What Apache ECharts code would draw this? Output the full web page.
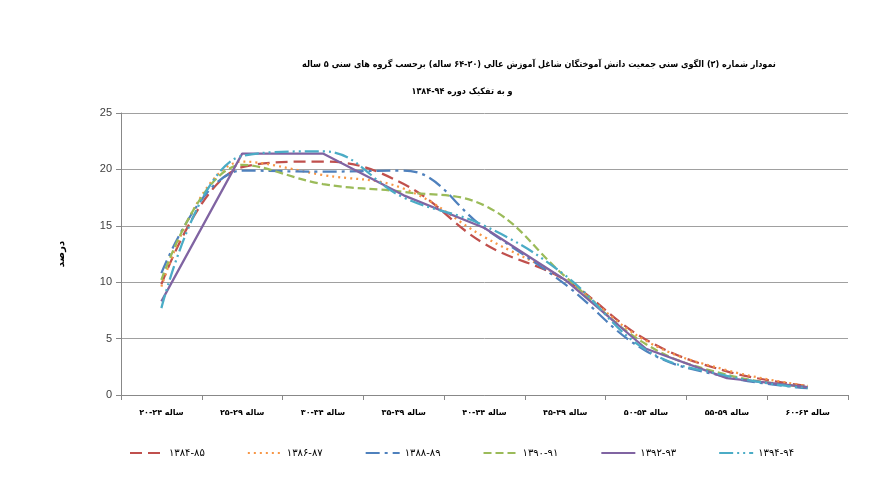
<!DOCTYPE html>
<html><head><meta charset="utf-8">
<script src="https://cdn.jsdelivr.net/npm/echarts@6/dist/echarts.min.js"></script>
<style>html,body{margin:0;padding:0;background:#fff}#c{width:882px;height:501px}</style>
</head><body><div id="c"></div>
<script>
const categories = ['۲۰-۲۴ ساله','۲۵-۲۹ ساله','۳۰-۳۴ ساله','۳۵-۳۹ ساله','۴۰-۴۴ ساله','۴۵-۴۹ ساله','۵۰-۵۴ ساله','۵۵-۵۹ ساله','۶۰-۶۴ ساله'];
const seriesNames = ['۱۳۸۴-۸۵','۱۳۸۶-۸۷','۱۳۸۸-۸۹','۱۳۹۰-۹۱','۱۳۹۲-۹۳','۱۳۹۴-۹۴'];
const s1384 = [9.8, 20.2, 20.7, 18.7, 13.4, 10.2, 4.9, 2.1, 0.8];
const s1386 = [9.6, 20.7, 19.5, 18.3, 14.0, 10.2, 4.8, 2.2, 0.8];
const s1388 = [10.8, 19.9, 19.8, 19.9, 14.8, 9.8, 3.9, 1.6, 0.6];
const s1390 = [10.2, 20.4, 18.7, 18.0, 16.8, 10.5, 4.5, 1.8, 0.7];
const s1392 = [8.3, 21.4, 21.4, 17.7, 14.8, 10.2, 4.1, 1.5, 0.7];
const s1394 = [7.7, 21.2, 21.6, 17.5, 15.0, 10.6, 4.0, 1.7, 0.6];
const yTicks = [0, 5, 10, 15, 20, 25];
const titleLine1 = 'نمودار شماره (۲) الگوی سنی جمعیت دانش آموختگان شاغل آموزش عالی (۲۰-۶۴ ساله) برحسب گروه های سنی ۵ ساله';
const titleLine2 = 'و به تفکیک دوره ۹۴-۱۳۸۴';
const yName = 'درصد';

const colors = ['#C0504D','#F79646','#4F81BD','#9BBB59','#8064A2','#4BACC6'];
const dashes = [[12,6],[2,4],[14,5,3,5],[8,4],'solid',[14,4,2,4,2,4]];
const smooths = [true,true,true,true,false,true];
const values = [s1384,s1386,s1388,s1390,s1392,s1394];
const font = 'DejaVu Sans';

const chart = echarts.init(document.getElementById('c'), null, {renderer:'canvas'});
chart.setOption({
  animation:false,
  backgroundColor:'#fff',
  title:[
    {text:titleLine1, left:534, top:55, textAlign:'center', textStyle:{fontFamily:'DejaVu Sans Condensed, DejaVu Sans',fontSize:9,fontWeight:'bold',color:'#000'}},
    {text:titleLine2, left:457, top:82, textAlign:'center', textStyle:{fontFamily:'DejaVu Sans Condensed, DejaVu Sans',fontSize:9,fontWeight:'bold',color:'#000'}}
  ],
  grid:{left:121,right:34,top:113,bottom:106,containLabel:false},
  legend:{
    bottom:38, left:124, itemWidth:34, itemHeight:10, itemGap:42,
    itemStyle:{opacity:0},
    textStyle:{fontFamily:font,fontSize:10,color:'#000'},
    data:seriesNames
  },
  xAxis:{
    type:'category', data:categories, boundaryGap:true,
    axisLine:{lineStyle:{color:'#888'}},
    axisTick:{show:true,length:5,lineStyle:{color:'#888'}},
    axisLabel:{fontFamily:font,fontSize:8,fontWeight:'bold',color:'#000',margin:14}
  },
  yAxis:{
    type:'value', min:yTicks[0], max:yTicks[yTicks.length-1], interval:5,
    name:yName, nameLocation:'middle', nameRotate:90, nameGap:55,
    nameTextStyle:{fontFamily:font,fontSize:10,fontWeight:'bold',color:'#000'},
    axisLine:{show:true,lineStyle:{color:'#888'}},
    axisTick:{show:true,length:5,lineStyle:{color:'#888'}},
    axisLabel:{fontFamily:'Liberation Sans',fontSize:11,color:'#404040',margin:9},
    splitLine:{lineStyle:{color:'#a0a0a0',width:1}}
  },
  series: seriesNames.map((n,i)=>({
    name:n, type:'line', data:values[i], smooth:smooths[i]?0.4:false,
    symbol:'none', showSymbol:false,
    lineStyle:{color:colors[i],width:2.25,type:dashes[i]},
    itemStyle:{color:colors[i]}
  }))
});
</script>
</body></html>
